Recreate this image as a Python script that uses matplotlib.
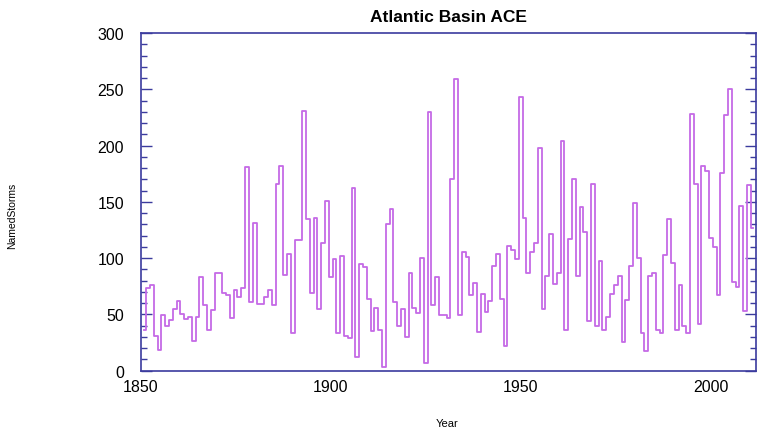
import matplotlib

matplotlib.use("Agg")

import matplotlib.pyplot as plt
import numpy as np
from matplotlib.ticker import MultipleLocator

plt.rcParams["font.family"] = ["Liberation Sans", "DejaVu Sans"]

first_year = 1851
ace = [
    36, 73, 76, 31, 18, 49, 40, 45, 55, 62,      # 1851-1860
    50, 46, 48, 26, 48, 83, 58, 36, 54, 87,      # 1861-1870
    87, 69, 67, 47, 72, 65, 73, 181, 61, 131,    # 1871-1880
    59, 59, 65, 72, 58, 166, 182, 85, 104, 33,   # 1881-1890
    116, 116, 231, 135, 69, 136, 55, 113, 151, 83,  # 1891-1900
    99, 33, 102, 31, 29, 162, 12, 95, 92, 64,    # 1901-1910
    35, 56, 36, 3, 130, 144, 61, 40, 55, 30,     # 1911-1920
    87, 56, 51, 100, 7, 230, 58, 83, 49, 49,     # 1921-1930
    47, 170, 259, 49, 105, 101, 67, 78, 34, 68,  # 1931-1940
    52, 62, 93, 104, 64, 22, 111, 107, 99, 243,  # 1941-1950
    136, 87, 105, 113, 198, 55, 84, 121, 77, 87,  # 1951-1960
    204, 36, 117, 170, 84, 145, 123, 44, 166, 40,  # 1961-1970
    97, 36, 48, 68, 76, 84, 25, 63, 93, 149,     # 1971-1980
    100, 33, 17, 84, 87, 36, 33, 103, 135, 96,   # 1981-1990
    36, 76, 40, 33, 228, 166, 41, 182, 177, 118,  # 1991-2000
    110, 67, 176, 227, 250, 79, 74, 146, 53, 165,  # 2001-2010
    127,                                         # 2011
]
years = np.arange(first_year, first_year + len(ace))

title = "Atlantic Basin ACE"
x_label = "Year"
y_label = "NamedStorms"

frame = "#3b3b9e"

fig = plt.figure(figsize=(7.68, 4.31), dpi=100)
ax = fig.add_axes([0.183, 0.138, 0.801, 0.783])

ax.step(years, ace, where="mid", color="#c56ae6", lw=1.3)

ax.set_xlim(1850, 2011.8)
ax.set_ylim(0, 300)
ax.xaxis.set_major_locator(MultipleLocator(50))
ax.yaxis.set_major_locator(MultipleLocator(50))
ax.yaxis.set_minor_locator(MultipleLocator(10))

for side in ax.spines.values():
    side.set_color(frame)
    side.set_linewidth(1.2)

ax.tick_params(axis="y", which="both", direction="in", left=True, right=True,
               color=frame, width=1.0, labelsize=11.5, pad=12)
ax.tick_params(axis="y", which="major", length=8)
ax.tick_params(axis="y", which="minor", length=4)
ax.tick_params(axis="x", which="both", length=0, labelsize=11.5, pad=6)

ax.set_title(title, fontsize=12.5, fontweight="bold", pad=9)
fig.text(0.582, 0.005, x_label, ha="center", va="bottom", fontsize=8)
fig.text(0.016, 0.5, y_label, ha="center", va="center", rotation=90, fontsize=7.5)

fig.savefig("out.png", dpi=100)
